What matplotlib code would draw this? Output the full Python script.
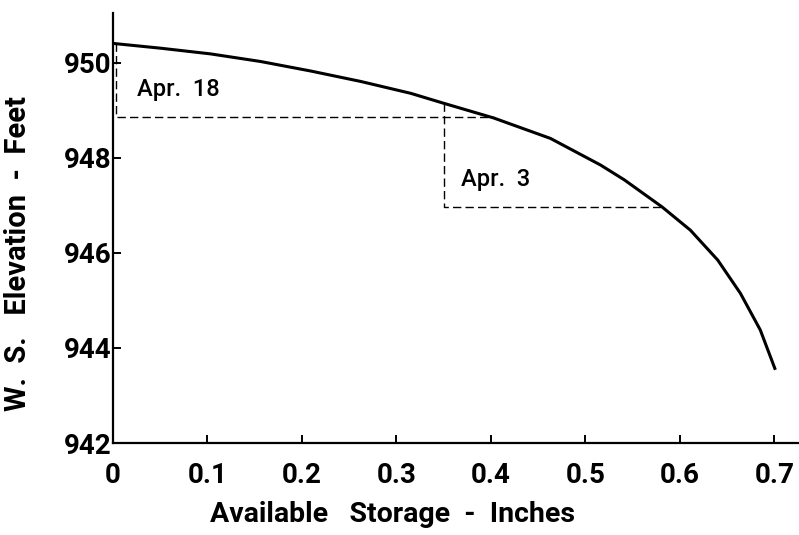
import matplotlib.pyplot as plt
from matplotlib.ticker import FixedLocator

# storage - elevation curve
storage = [0.0, 0.050, 0.103, 0.156, 0.209, 0.262, 0.315, 0.350, 0.403, 0.463,
           0.516, 0.541, 0.581, 0.611, 0.640, 0.664, 0.685, 0.701]
elevation = [950.41, 950.31, 950.19, 950.03, 949.83, 949.61, 949.36, 949.15, 948.84, 948.41,
             947.85, 947.54, 946.97, 946.48, 945.85, 945.15, 944.38, 943.54]

# dashed "step" lines for each date
apr18_x = [0.003, 0.003, 0.403]
apr18_y = [950.41, 948.86, 948.86]
apr3_x = [0.35, 0.35, 0.581]
apr3_y = [949.15, 946.97, 946.97]

xticks = [0, 0.1, 0.2, 0.3, 0.4, 0.5, 0.6, 0.7]
xticklabels = ["0", "0.1", "0.2", "0.3", "0.4", "0.5", "0.6", "0.7"]
yticks = [942, 944, 946, 948, 950]

plt.rcParams['font.family'] = ['Roboto', 'DejaVu Sans']

fig = plt.figure(figsize=(7.99, 5.35), dpi=100)
ax = fig.add_axes([113 / 799, 92 / 535, 686 / 799, 430 / 535])

ax.plot(storage, elevation, color="black", lw=2.2, solid_capstyle="butt")
ax.plot(apr18_x, apr18_y, color="black", lw=1.0, dashes=(6, 3))
ax.plot(apr3_x, apr3_y, color="black", lw=1.0, dashes=(6, 3))

ax.text(0.025, 949.43, "Apr.  18", fontsize=17, fontweight="medium", va="center", ha="left")
ax.text(0.368, 947.54, "Apr.  3", fontsize=17, fontweight="medium", va="center", ha="left")

ax.set_xlim(0, 0.726)
ax.set_ylim(942, 951.05)
ax.xaxis.set_major_locator(FixedLocator(xticks))
ax.set_xticklabels(xticklabels)
ax.yaxis.set_major_locator(FixedLocator(yticks))

for s in ["top", "right"]:
    ax.spines[s].set_visible(False)
for s in ["left", "bottom"]:
    ax.spines[s].set_linewidth(1.6)

ax.tick_params(direction="in", length=6, width=1.4, labelsize=20)
ax.tick_params(axis="x", pad=14)
ax.tick_params(axis="y", pad=1)
for lab in ax.get_xticklabels() + ax.get_yticklabels():
    lab.set_fontweight("bold")

ax.set_xlabel("Available   Storage  -  Inches", fontsize=20.5, fontweight="bold")
ax.set_ylabel("W.  S.   Elevation  -  Feet", fontsize=21, fontweight="bold")
ax.xaxis.set_label_coords(0.407, -0.135)
ax.yaxis.set_label_coords(-0.118, 0.44)

fig.savefig("out.png", dpi=100)
